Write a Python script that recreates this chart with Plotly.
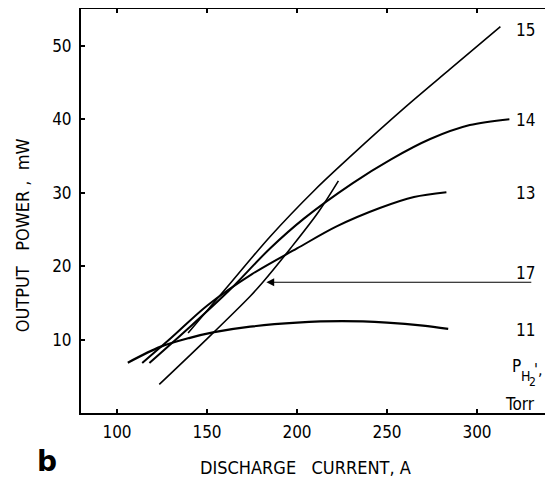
import plotly.graph_objects as go

# Discharge current (A) and output power (mW) for each H2 pressure (Torr)
p11_current = [106, 124, 140, 154, 174, 200, 225, 250, 270, 284]
p11_power = [6.85, 9.0, 10.2, 11.0, 11.75, 12.3, 12.5, 12.3, 11.9, 11.45]

p13_current = [114, 130, 150, 175, 200, 222, 246, 265, 283]
p13_power = [6.8, 10.2, 14.6, 18.9, 22.4, 25.4, 27.9, 29.4, 30.05]

p14_current = [118, 140, 162, 185, 204, 231, 252, 274, 296, 318]
p14_power = [6.8, 11.6, 16.6, 22.4, 26.5, 31.3, 34.5, 37.3, 39.2, 40.0]

p15_current = [139.5, 160, 185, 210, 230, 260, 285, 313]
p15_power = [10.9, 16.8, 24.0, 30.4, 35.0, 41.6, 46.8, 52.6]

p17_current = [123.5, 150, 174, 181, 196, 212, 223]
p17_power = [3.9, 10.1, 15.9, 17.8, 22.3, 27.4, 31.6]

label_text = ["15", "14", "13", "17", "11"]
label_power = [52.2, 39.9, 29.9, 19.1, 11.35]

x_ticks = [100, 150, 200, 250, 300]
y_ticks = [10, 20, 30, 40, 50]

NB = "\u00a0"
x_title = "DISCHARGE" + NB * 3 + "CURRENT," + NB + "A"
y_title = "OUTPUT" + NB * 3 + "POWER" + NB + "," + NB * 2 + "mW"

FONT = "DejaVu Sans Condensed, Liberation Sans Narrow, Arial Narrow, sans-serif"
BLACK = "black"

fig = go.Figure()
series = [
    (p11_current, p11_power, 2.2),
    (p13_current, p13_power, 2.0),
    (p14_current, p14_power, 2.0),
    (p15_current, p15_power, 1.6),
    (p17_current, p17_power, 1.6),
]
for xs, ys, w in series:
    fig.add_trace(go.Scatter(x=xs, y=ys, mode="lines",
                             line=dict(color=BLACK, width=w, shape="spline", smoothing=0.9),
                             showlegend=False, hoverinfo="skip"))

for t, yv in zip(label_text, label_power):
    fig.add_annotation(x=327, y=yv, text=t, showarrow=False, xref="x", yref="y",
                       font=dict(family=FONT, size=17, color=BLACK))

# arrow pointing to the 17 Torr curve
fig.add_annotation(x=183, y=17.8, ax=331, ay=17.8, xref="x", yref="y", axref="x", ayref="y",
                   text="", showarrow=True, arrowhead=2, arrowsize=1.3, arrowwidth=1.2,
                   arrowcolor=BLACK)

# "P_H2', Torr" pressure key, built from pieces so the subscripts read at a useful size
key_parts = [("P", 17, -6, 6), ("H", 14, 3, -4), ("2", 12, 10, -10), ("',", 16, 16, 2)]
for txt, sz, dx, dy in key_parts:
    fig.add_annotation(x=325, y=5.6, xref="x", yref="y", text=txt, showarrow=False,
                       xshift=dx, yshift=dy, font=dict(family=FONT, size=sz, color=BLACK))
fig.add_annotation(x=324, y=1.2, text="Torr", showarrow=False,
                   xref="x", yref="y", font=dict(family=FONT, size=17, color=BLACK))

# axis titles and panel letter
fig.add_annotation(x=0.479, y=-0.134, xref="paper", yref="paper", text=x_title,
                   showarrow=False, yanchor="middle", xanchor="center",
                   font=dict(family=FONT, size=18, color=BLACK))
fig.add_annotation(x=-0.126, y=0.44, xref="paper", yref="paper", text=y_title,
                   showarrow=False, yanchor="middle", xanchor="center", textangle=-90,
                   font=dict(family=FONT, size=18, color=BLACK))
fig.add_annotation(x=-0.073, y=-0.121, xref="paper", yref="paper", text="<b>b</b>",
                   showarrow=False, yanchor="middle", xanchor="center",
                   font=dict(family="DejaVu Sans, sans-serif", size=28, color=BLACK))

fig.update_xaxes(range=[80, 340], tickvals=x_ticks, ticks="inside", ticklen=4, tickwidth=1.5,
                 tickcolor=BLACK, showline=True, linecolor=BLACK, linewidth=2, mirror="ticks",
                 showgrid=False, zeroline=False, automargin=False, ticklabelstandoff=3,
                 tickfont=dict(family=FONT, size=17, color=BLACK))
fig.update_yaxes(range=[0, 55], tickvals=y_ticks, ticks="inside", ticklen=4, tickwidth=1.5,
                 tickcolor=BLACK, showline=True, linecolor=BLACK, linewidth=2, mirror="ticks",
                 showgrid=False, zeroline=False, automargin=False, ticklabelstandoff=4,
                 tickfont=dict(family=FONT, size=17, color=BLACK))

# the page body adds an 8 px margin; the figure is sized so the plot area lands where the reference has it
fig.update_layout(width=545, height=471, margin=dict(l=73, r=4, t=1, b=66),
                  plot_bgcolor="white", paper_bgcolor="white")

fig.write_html("out.html")
